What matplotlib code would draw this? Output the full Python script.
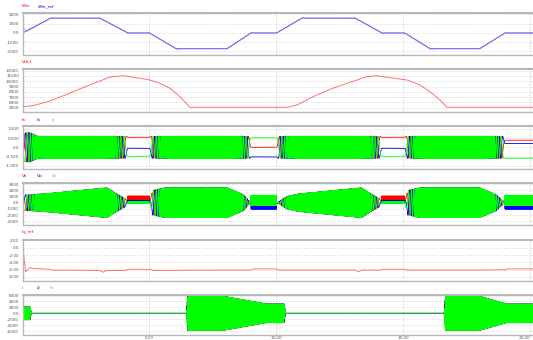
import matplotlib
matplotlib.use("Agg")
import matplotlib.pyplot as plt
import numpy as np

WIDTH, HEIGHT, DPI = 533, 340, 100

# time axis (s)
time_ticks = [5, 10, 15, 20]
time_tick_labels = ["5.00", "10.00", "15.00", "20.00"]
t_end = 20.1

# panel 1: speed reference and measured speed
speed_ref_t = [0, 1.1, 3.05, 4.15, 5.0, 6.05, 8.05, 9.0, 10.0, 11.0, 13.1, 14.15, 15.05, 16.05, 18.0, 19.0, 20.1]
speed_ref = [0, 1600, 1600, 0, 0, -1700, -1700, 0, 0, 1600, 1600, 0, 0, -1700, -1700, 0, 0]
speed_t = [0, 0.05, 0.18, 1.1, 1.16, 1.25, 3.05, 4.15, 4.2, 4.3, 5.0, 6.05, 6.1, 6.2,
           8.05, 9.0, 9.05, 9.15, 10.0, 11.0, 11.05, 11.15, 13.1, 14.15, 14.2, 14.3,
           15.05, 16.05, 16.1, 16.2, 18.0, 19.0, 19.05, 19.15, 20.1]
speed_meas = [0, 540, 180, 1600, 1660, 1600, 1600, 0, -60, 0, 0, -1700, -1760, -1700,
              -1700, 0, 60, 0, 0, 1600, 1660, 1600, 1600, 0, -60, 0,
              0, -1700, -1760, -1700, -1700, 0, 60, 0, 0]

# panel 2: dc link voltage
vdc_t = [0.02, 0.41, 1.08, 1.75, 2.38, 3.05, 3.44, 3.96, 4.23, 4.63, 5.02, 5.41, 5.81, 6.2, 6.32, 6.59,
         10.41, 10.81, 11.44, 12.11, 12.78, 13.56, 13.96, 14.35, 15.14, 15.65, 16.04, 16.44, 16.71, 20.1]
vdc = [5200, 5380, 6270, 7540, 8790, 10050, 10810, 11055, 10870, 10560, 10240, 9620, 8670, 7090, 6460, 5080,
       5080, 5520, 7090, 8480, 9620, 10870, 11055, 10750, 10240, 9300, 8030, 6460, 5080, 5080]

# panel 3: phase currents (amplitude envelope, angles while standing still)
cur_amp_t = [0, 0.3, 0.6, 20.1]
cur_amp = [0.8, 0.8, 0.6, 0.6]
stop_windows = [(4.15, 5.0), (9.0, 10.0), (14.15, 15.05), (19.0, 20.1)]
stop_angles = [25, -90, 25, 50]

# panel 4: phase voltages
volt_env_t = [0, 0.3, 1.08, 3.33, 3.64, 4.04, 4.15, 5.0, 5.12, 5.6, 8.05, 8.7, 9.0,
              10.0, 10.4, 10.85, 13.35, 13.65, 14.05, 14.15, 15.05, 15.17, 15.65, 18.0, 18.65, 19.0, 20.1]
volt_env = [1300, 1300, 1500, 2400, 1600, 700, 0, 0, 2000, 2400, 2400, 1300, 0,
            0, 1000, 1400, 2400, 1600, 700, 0, 0, 2000, 2400, 2400, 1300, 0, 0]
stop_va = [700, 0, 700, 0]
stop_va_rip = [350, 0, 350, 0]
stop_vb = [300, -750, 300, -750]
stop_vb_rip = [60, 250, 60, 250]
stop_vc = [0, 400, 0, 400]
stop_vc_rip = [100, 800, 100, 800]

# panel 5: q current reference
iq_t = [0, 0.03, 0.12, 0.27, 0.43, 1.08, 1.15, 3.05, 3.18, 3.31, 4.08, 4.15, 5.05, 5.12, 8.05,
        9.0, 9.08, 10.0, 10.08, 13.1, 13.23, 13.36, 14.1, 14.17, 15.05, 15.12, 18.0, 19.0, 19.08, 20.1]
iq = [0.0, -0.8, -6.6, -5.5, -5.65, -5.9, -6.1, -6.2, -6.7, -6.2, -6.2, -5.9, -5.9, -6.2, -6.1,
      -6.1, -5.8, -5.8, -6.1, -6.1, -6.6, -6.1, -6.1, -5.9, -5.9, -6.1, -6.1, -6.0, -5.8, -5.8]

# panel 6: chopper currents burst envelope
burst_t = [0, 0.02, 0.3, 0.35, 6.45, 6.5, 7.9, 9.6, 10.3, 10.36, 16.6, 16.65, 18.0, 19.05, 20.1]
burst_amp = [0, 2200, 2200, 0, 0, 5800, 5800, 3200, 3200, 0, 0, 5800, 5800, 3200, 3200]

FE_MAX = 40.0     # electrical frequency at 1600 rpm (Hz)
F_BURST = 26.0
F_RIPPLE = 173.0

RED, BLUE, GREEN = "#ff0000", "#0000ff", "#00ff00"
GRID = "#d4d4d4"
FRAME = "#b8b8b8"


def waveforms():
    dt = 0.0005
    t = np.arange(0, t_end, dt)
    fe = np.interp(t, speed_ref_t, speed_ref) / 1600.0 * FE_MAX
    F = np.concatenate([[0.0], np.cumsum(fe[:-1] * dt)])
    theta = 2 * np.pi * F
    bounds = [2.07, 7.05, 12.05, 17.0, 99.0]
    stop_idx = np.full(t.shape, -1)
    for k, ((a, b), ang) in enumerate(zip(stop_windows, stop_angles)):
        Fk = np.interp(0.5 * (a + b), t, F)
        m = (t >= bounds[k]) & (t < bounds[k + 1])
        theta[m] = np.deg2rad(ang) + 2 * np.pi * (F[m] - Fk)
        stop_idx[(t >= a) & (t <= b)] = k

    amp = np.interp(t, cur_amp_t, cur_amp)
    cur = [amp * np.cos(theta + s) for s in (0, -2 * np.pi / 3, 2 * np.pi / 3)]

    env = np.interp(t, volt_env_t, volt_env)
    dcs = [stop_va, stop_vb, stop_vc]
    rips = [stop_va_rip, stop_vb_rip, stop_vc_rip]
    volt = []
    for j, s in enumerate((0, -2 * np.pi / 3, 2 * np.pi / 3)):
        v = env * np.cos(theta + 0.5 + s)
        inside = stop_idx >= 0
        k = stop_idx[inside]
        v[inside] += np.array(dcs[j])[k] + np.array(rips[j])[k] * np.sin(2 * np.pi * F_RIPPLE * t[inside] + j)
        volt.append(v)

    benv = np.interp(t, burst_t, burst_amp)
    burst = [benv * np.sin(2 * np.pi * F_BURST * t + s) for s in (0, -2 * np.pi / 3, 2 * np.pi / 3)]
    return t, cur, volt, burst


def style_axes(ax, ylim, yticks, ylabels, show_x=False):
    ax.set_xlim(0, t_end)
    ax.set_ylim(*ylim)
    ax.set_yticks(yticks)
    ax.set_yticklabels(ylabels)
    ax.set_xticks(time_ticks)
    if show_x:
        ax.set_xticklabels(time_tick_labels)
    else:
        ax.set_xticklabels([])
    ax.tick_params(length=0, labelsize=3, colors="#555555", pad=2.5)
    ax.grid(True, axis="y", color=GRID, linestyle=(0, (2, 2)), linewidth=0.5)
    ax.grid(True, axis="x", color="#c4c4c4", linestyle=(0, (2, 2)), linewidth=0.5)
    for side in ("top", "bottom", "left"):
        ax.spines[side].set_color(FRAME)
        ax.spines[side].set_linewidth(1.0)
    ax.spines["top"].set_linewidth(1.5)
    ax.spines["right"].set_visible(False)
    ax.set_axisbelow(True)


def label(fig, x, y, text, color):
    fig.text(x / WIDTH, 1 - y / HEIGHT, text, color=color, fontsize=3.2, va="center", ha="left")


def main():
    t, cur, volt, burst = waveforms()
    fig = plt.figure(figsize=(WIDTH / DPI, HEIGHT / DPI), dpi=DPI)
    boxes = [(13, 55), (69, 112), (126, 169), (183, 225), (240, 281), (295, 335)]
    axes = []
    for top, bottom in boxes:
        axes.append(fig.add_axes([22.5 / WIDTH, 1 - bottom / HEIGHT, (WIDTH - 22.5) / WIDTH, (bottom - top) / HEIGHT]))

    ax = axes[0]
    ax.plot(speed_t, speed_meas, color=RED, lw=0.5, alpha=0.5)
    ax.plot(speed_ref_t, speed_ref, color="#6a6aff", lw=0.8)
    style_axes(ax, (-2380, 2160), [2000, 1000, 0, -1000, -2000], ["2000", "1000", "0.0", "-1000", "-2000"])
    label(fig, 22, 6, "Wm", RED)
    label(fig, 38, 6, "Wm_ref", BLUE)

    ax = axes[1]
    ax.plot(vdc_t, vdc, color=RED, lw=0.7, alpha=0.55)
    ticks = list(range(12000, 4999, -1000))
    style_axes(ax, (4190, 12320), ticks, [str(v) for v in ticks])
    label(fig, 22, 62, "Vdc1", RED)

    ax = axes[2]
    for y, c in zip(cur, (RED, BLUE, GREEN)):
        ax.plot(t, y, color=c, lw=0.6)
    style_axes(ax, (-1.18, 1.16), [1.0, 0.5, 0, -0.5, -1.0], ["1.000", "0.500", "0.0", "-0.500", "-1.000"])
    label(fig, 22, 120, "Ia", RED)
    label(fig, 37, 120, "Ib", BLUE)
    label(fig, 52, 120, "Ic", GREEN)

    ax = axes[3]
    for y, c in zip(volt, (RED, BLUE, GREEN)):
        ax.plot(t, y, color=c, lw=0.6)
    ticks = [3000, 2000, 1000, 0, -1000, -2000, -3000]
    style_axes(ax, (-3600, 3180), ticks, ["3000", "2000", "1000", "0.0", "-1000", "-2000", "-3000"])
    label(fig, 22, 176, "Va", RED)
    label(fig, 37, 176, "Vb", BLUE)
    label(fig, 52, 176, "Vc", GREEN)

    ax = axes[4]
    ax.plot(iq_t, iq, color=RED, lw=0.7, alpha=0.55)
    style_axes(ax, (-9.1, 2.1), [2, 0, -2, -4, -6, -8], ["2.00", "0.0", "-2.00", "-4.00", "-6.00", "-8.00"])
    label(fig, 22, 232, "Iq_ref", RED)

    ax = axes[5]
    for y, c in zip(burst, (RED, BLUE, GREEN)):
        ax.plot(t, y, color=c, lw=0.6)
    ticks = [6000, 4000, 2000, 0, -2000, -4000, -6000]
    style_axes(ax, (-7350, 6200), ticks, ["6000", "4000", "2000", "0.0", "-2000", "-4000", "-6000"], show_x=True)
    ax.tick_params(axis="x", pad=0.8)
    ax.get_xticklabels()[-1].set_horizontalalignment("right")
    label(fig, 22, 288, "i", RED)
    label(fig, 37, 288, "i2", BLUE)
    label(fig, 50, 288, "i3", GREEN)

    fig.savefig("out.png", dpi=DPI, facecolor="white")
    plt.close(fig)


if __name__ == "__main__":
    main()
